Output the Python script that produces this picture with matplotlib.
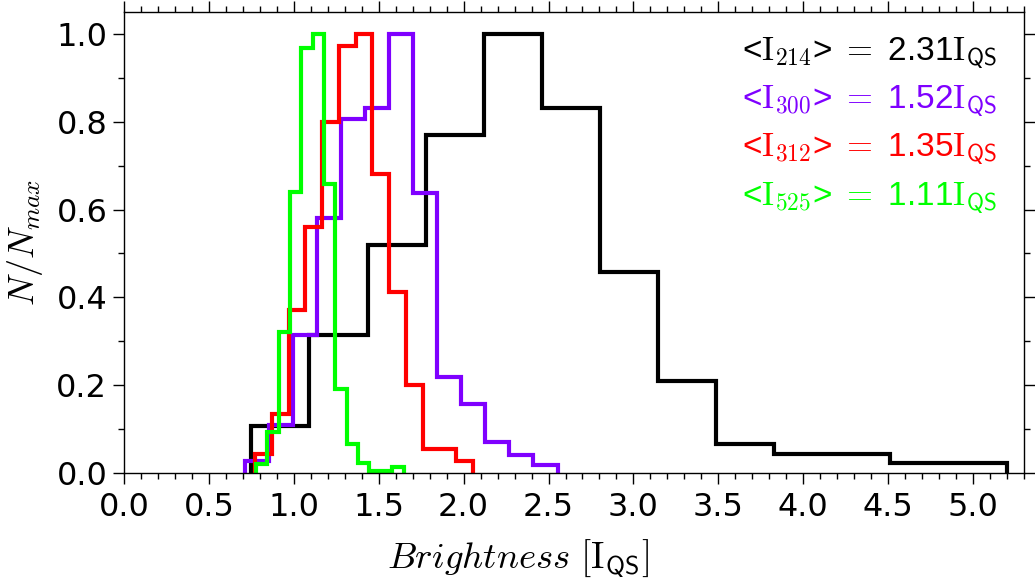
import matplotlib
matplotlib.use("Agg")
import matplotlib.pyplot as plt
from matplotlib.ticker import MultipleLocator, FormatStrFormatter

plt.rcParams['mathtext.fontset'] = 'cm'

# histogram bin edges and normalised counts (N/Nmax) per wavelength
edges_214 = [0.750, 1.092, 1.434, 1.776, 2.118, 2.461, 2.803, 3.145,
             3.487, 3.829, 4.171, 4.513, 4.855, 5.197]
vals_214 = [0.106, 0.314, 0.520, 0.769, 1.000, 0.831, 0.457, 0.209,
            0.065, 0.044, 0.044, 0.023, 0.023]

edges_300 = [0.711, 0.853, 0.994, 1.136, 1.278, 1.420, 1.561, 1.703,
             1.845, 1.986, 2.128, 2.270, 2.411, 2.553]
vals_300 = [0.027, 0.110, 0.314, 0.580, 0.806, 0.831, 1.000, 0.638,
            0.219, 0.158, 0.071, 0.040, 0.018]

edges_312 = [0.772, 0.871, 0.969, 1.068, 1.167, 1.266, 1.364, 1.463,
             1.562, 1.660, 1.759, 1.858, 1.957, 2.055]
vals_312 = [0.044, 0.135, 0.372, 0.560, 0.799, 0.972, 1.000, 0.682,
            0.412, 0.201, 0.055, 0.055, 0.027]

edges_525 = [0.776, 0.843, 0.910, 0.977, 1.044, 1.111, 1.178, 1.245,
             1.312, 1.379, 1.445, 1.512, 1.579, 1.646]
vals_525 = [0.021, 0.093, 0.321, 0.640, 0.968, 1.000, 0.658, 0.192,
            0.065, 0.023, 0.005, 0.005, 0.014]

labels = ["214", "300", "312", "525"]
means = ["2.31", "1.52", "1.35", "1.11"]
colors = ["black", "#7F00FF", "#FF0000", "#00FF00"]

fig = plt.figure(figsize=(10.35, 5.8), dpi=100)
ax = fig.add_axes([124 / 1035, 107 / 580, 900 / 1035, 461 / 580])

series = [(edges_214, vals_214), (edges_300, vals_300),
          (edges_312, vals_312), (edges_525, vals_525)]
for (edges, vals), col in zip(series, colors):
    ax.stairs(vals, edges, baseline=0, color=col, linewidth=3)

ax.set_xlim(0, 5.3)
ax.set_ylim(0, 1.05)

# ticks on all four sides, pointing outwards
ax.xaxis.set_major_locator(MultipleLocator(0.5))
ax.xaxis.set_minor_locator(MultipleLocator(0.1))
ax.yaxis.set_major_locator(MultipleLocator(0.2))
ax.yaxis.set_minor_locator(MultipleLocator(0.1))
ax.tick_params(which='both', direction='out', top=True, right=True,
               width=1.0)
ax.tick_params(which='major', length=8)
ax.tick_params(which='minor', length=4.5)
ax.tick_params(axis='x', labelsize=23, pad=6)
ax.tick_params(axis='y', labelsize=23, pad=4)
ax.xaxis.set_major_formatter(FormatStrFormatter('%.1f'))
ax.yaxis.set_major_formatter(FormatStrFormatter('%.1f'))
for sp in ax.spines.values():
    sp.set_linewidth(1.0)

ax.set_xlabel(r"$Brightness\ [\mathrm{I}_{\mathsf{QS}}]$", fontsize=26.5)
ax.xaxis.set_label_coords(0.438, -0.14)
ax.set_ylabel(r"$N/N_{max}$", fontsize=26)
ax.yaxis.set_label_coords(-0.088, 0.5)

# mean brightness annotations
for i, (lab, m, col) in enumerate(zip(labels, means, colors)):
    txt = ("<$\\mathrm{I}_{\\mathsf{" + lab + "}}$> $\\mathbf{=}$ " + m +
           "$\\mathrm{I}_{\\mathsf{QS}}$")
    ax.text(0.97, 0.896 - i * 0.105, txt, transform=ax.transAxes,
            ha='right', va='baseline', color=col, fontsize=24,
            family='Liberation Sans')

fig.savefig("out.png", dpi=100)
